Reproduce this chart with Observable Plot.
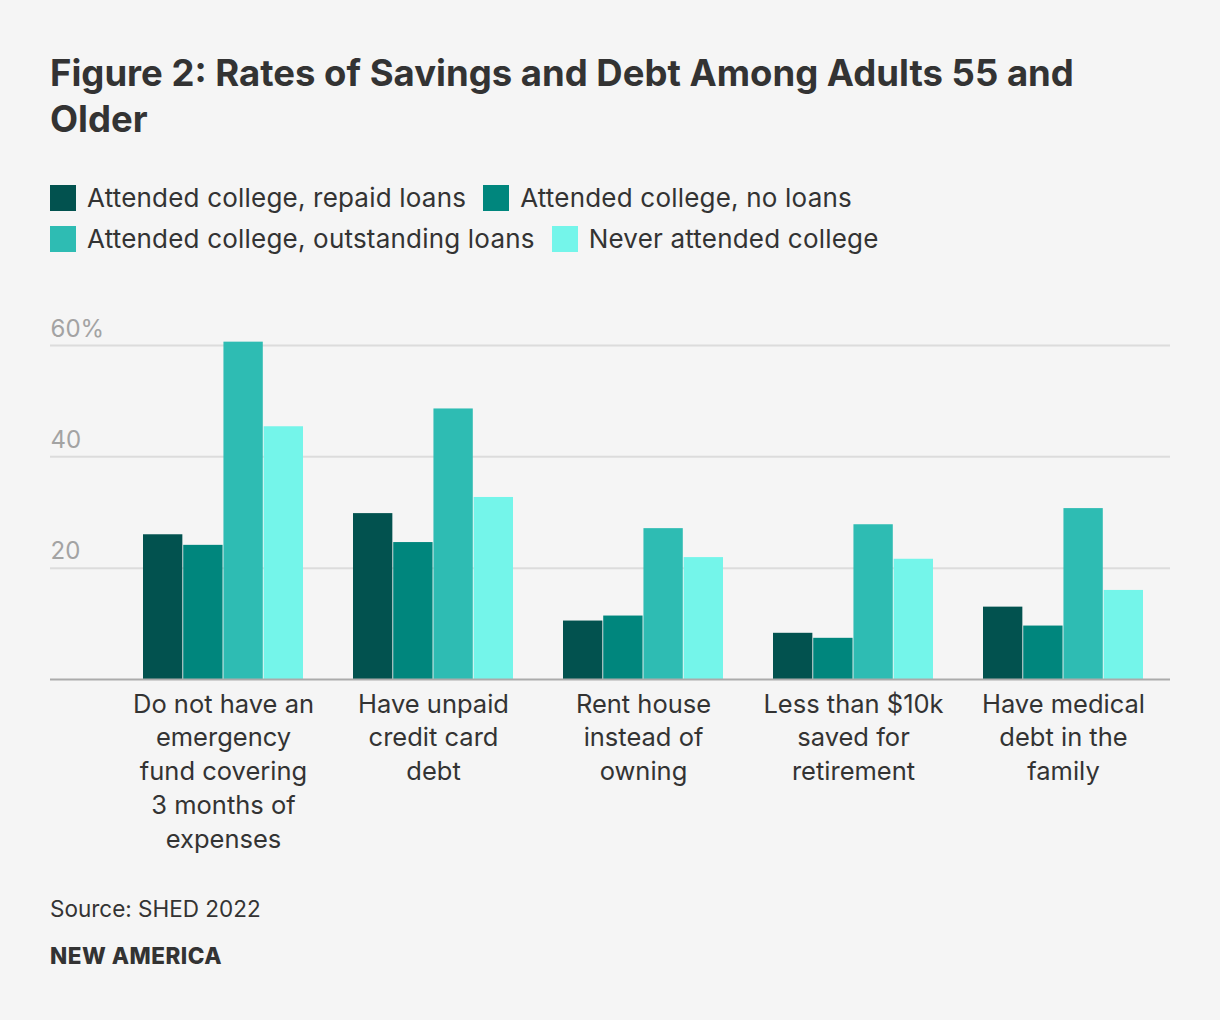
<!DOCTYPE html>
<html>
<head>
<meta charset="utf-8">
<script src="https://cdn.jsdelivr.net/npm/d3@7"></script>
<script src="https://cdn.jsdelivr.net/npm/@observablehq/plot@0.6"></script>
<style>
  html, body { margin: 0; padding: 0; background: #f5f5f5; }
  body { width: 1220px; font-family: Inter, "Noto Sans", sans-serif; color: #333; }
  #wrap { padding: 50px 0 0 0; }
  h1 { margin: 0 0 0 50px; font-size: 36.5px; line-height: 46px; font-weight: 700; color: #333; white-space: nowrap; }
  #legend { margin: 35px 0 0 50px; width: 1120px; font-size: 26px; letter-spacing: 0.2px; display: flex; flex-wrap: wrap; }
  .item { display: inline-flex; align-items: center; height: 41px; margin-right: 17px; white-space: nowrap; }
  .sw { width: 26px; height: 26px; margin-right: 11px; display: inline-block; flex: none; }
  #chart { margin-top: 31px; }
  #chart svg { display: block; }
  #chart svg text.xlab { letter-spacing: 0.2px; }
  #source { margin: 36px 0 0 50px; font-size: 22.5px; line-height: 28px; color: #333; }
  #brand { margin: 19px 0 0 50px; font-size: 22.5px; line-height: 28px; font-weight: 800; color: #333; letter-spacing: 0.5px; }
</style>
</head>
<body>
<div id="wrap">
  <h1>Figure 2: Rates of Savings and Debt Among Adults 55 and<br>Older</h1>
  <div id="legend"></div>
  <div id="chart"></div>
  <div id="source">Source: SHED 2022</div>
  <div id="brand">NEW AMERICA</div>
</div>
<script>
const categories = ["emergency", "creditcard", "rent", "retirement", "medical"];
const tickLabels = [
  "Do not have an\nemergency\nfund covering\n3 months of\nexpenses",
  "Have unpaid\ncredit card\ndebt",
  "Rent house\ninstead of\nowning",
  "Less than $10k\nsaved for\nretirement",
  "Have medical\ndebt in the\nfamily"
];
const seriesNames = [
  "Attended college, repaid loans",
  "Attended college, no loans",
  "Attended college, outstanding loans",
  "Never attended college"
];
const seriesColors = ["#02524f", "#00867d", "#2ebcb3", "#74f5ea"];
const repaidLoans      = [26.0, 29.8, 10.5, 8.3, 13.0];
const noLoans          = [24.1, 24.6, 11.4, 7.4, 9.6];
const outstandingLoans = [60.6, 48.6, 27.1, 27.8, 30.7];
const neverAttended    = [45.4, 32.7, 21.9, 21.6, 16.0];
const yTicks = [20, 40, 60];
const yTickLabels = ["20", "40", "60%"];

const seriesValues = [repaidLoans, noLoans, outstandingLoans, neverAttended];

// legend
const legend = document.getElementById("legend");
seriesNames.forEach((name, i) => {
  const item = document.createElement("span");
  item.className = "item";
  const sw = document.createElement("span");
  sw.className = "sw";
  sw.style.background = seriesColors[i];
  item.appendChild(sw);
  item.appendChild(document.createTextNode(name));
  legend.appendChild(item);
});

const width = 1220, height = 569;
const marginLeft = 50, marginRight = 50, marginTop = 55, marginBottom = 180;
const insetLeft = 66;
const paddingInner = 0.237, paddingOuter = 0.118;
const bw = d3.scaleBand().domain(categories)
  .range([marginLeft + insetLeft, width - marginRight])
  .paddingInner(paddingInner).paddingOuter(paddingOuter).bandwidth();
const sub = bw / seriesNames.length;

const barMarks = seriesValues.map((vals, i) =>
  Plot.barY(categories.map((c, j) => ({category: c, value: vals[j]})), {
    x: "category", y: "value", fill: seriesColors[i],
    insetLeft: i * sub, insetRight: (seriesNames.length - 1 - i) * sub
  })
);

const plot = Plot.plot({
  width, height, marginLeft, marginRight, marginTop, marginBottom,
  style: {background: "transparent", fontFamily: "Inter, 'Noto Sans', sans-serif", overflow: "visible"},
  x: {type: "band", domain: categories, paddingInner, paddingOuter, insetLeft, axis: null},
  y: {domain: [0, 60], axis: null},
  marks: [
    Plot.ruleY(yTicks, {stroke: "#dcdcdc", strokeWidth: 2}),
    ...barMarks,
    Plot.ruleY([0], {stroke: "#ababab", strokeWidth: 2}),
    Plot.text(yTicks, {y: d => d, text: (d, i) => yTickLabels[i], frameAnchor: "left", textAnchor: "start", lineAnchor: "bottom", dy: -9, fontSize: 24, fill: "#a3a3a3"}),
    Plot.text(categories, {x: d => d, text: (d, i) => tickLabels[i], frameAnchor: "bottom", lineAnchor: "top", dy: 9, fontSize: 25.5, lineHeight: 1.33, fill: "#333", className: "xlab"})
  ]
});
document.getElementById("chart").appendChild(plot);
</script>
</body>
</html>
